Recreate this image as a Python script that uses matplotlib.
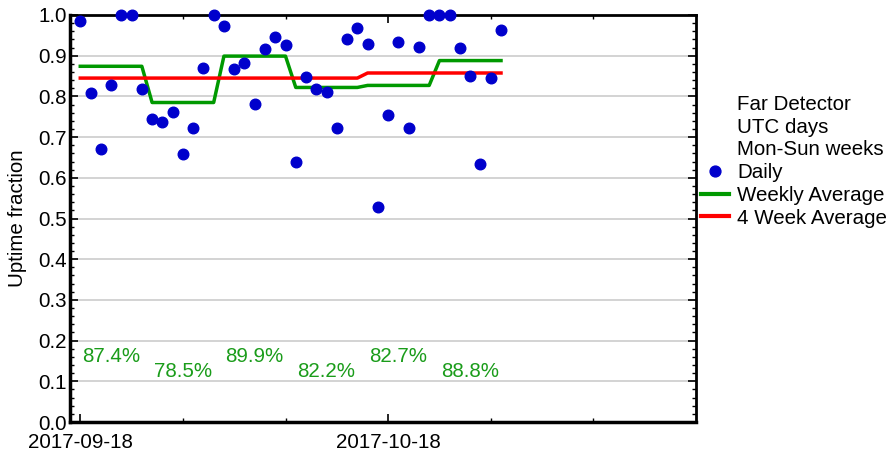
import numpy as np
import matplotlib
matplotlib.use("Agg")
import matplotlib.pyplot as plt
import matplotlib.dates as mdates
from matplotlib.lines import Line2D

plt.rcParams['font.family'] = ['Liberation Sans', 'DejaVu Sans']

# Daily uptime fraction, Mon 2017-09-18 .. Sun 2017-10-29
days = np.arange(np.datetime64('2017-09-18'), np.datetime64('2017-10-30'))
daily = [0.986, 0.809, 0.670, 0.827, 1.000, 1.000, 0.818,
         0.744, 0.737, 0.762, 0.659, 0.722, 0.870, 1.000,
         0.972, 0.867, 0.883, 0.781, 0.916, 0.946, 0.927,
         0.639, 0.848, 0.819, 0.811, 0.722, 0.942, 0.969,
         0.929, 0.528, 0.755, 0.934, 0.722, 0.922, 1.000,
         1.000, 1.000, 0.920, 0.850, 0.634, 0.844, 0.963]
weekly_avg = [0.874, 0.785, 0.899, 0.822, 0.827, 0.888]
four_week_avg = [0.8450, 0.8575]
legend_notes = ['Far Detector', 'UTC days', 'Mon-Sun weeks']

blue = '#0000cc'
green = '#009900'
red = '#ff0000'
fs = 14.8

fig = plt.figure(figsize=(8.92, 4.51), dpi=100)
ax = fig.add_axes([70 / 892, 1 - 422 / 451, 626 / 892, 407 / 451])

# weekly and 4-week averages repeated for each day, joined by lines
weekly_daily = np.repeat(weekly_avg, 7)
four_week_daily = np.repeat(four_week_avg, 28)[:len(days)]

ax.plot(days, weekly_daily, color=green, lw=2.5, zorder=3)
ax.plot(days, four_week_daily, color=red, lw=2.5, zorder=3)
ax.scatter(days, daily, s=58, color=blue, zorder=4, clip_on=False)

# weekly percentage labels, alternating heights
for i, w in enumerate(weekly_avg):
    ypos = 0.160 if i % 2 == 0 else 0.123
    ax.text(days[i * 7 + 3], ypos, f"{w * 100:.1f}%", color='#1a9c1a',
            fontsize=fs, ha='center', va='center')

ax.set_xlim(np.datetime64('2017-09-17'), np.datetime64('2017-11-17'))
ax.set_ylim(0, 1.0)

ax.set_xticks([np.datetime64('2017-09-18'), np.datetime64('2017-10-18')])
ax.set_xticks(np.arange(np.datetime64('2017-09-18'), np.datetime64('2017-11-17'), 10), minor=True)
ax.xaxis.set_major_formatter(mdates.DateFormatter('%Y-%m-%d'))
ax.set_yticks(np.arange(0, 1.01, 0.1))
ax.set_yticks(np.arange(0, 1.001, 0.02), minor=True)
ax.yaxis.set_major_formatter(matplotlib.ticker.FormatStrFormatter('%.1f'))

ax.tick_params(which='both', direction='in', top=True, right=True,
               labelsize=fs, pad=2)
ax.tick_params(axis='x', which='major', pad=8)
ax.tick_params(which='major', length=6, width=1.2)
ax.tick_params(which='minor', length=3, width=1.0)

ax.grid(axis='y', which='major', color='#cccccc', lw=1.2)
ax.set_axisbelow(True)
for side in ['left', 'bottom']:
    ax.spines[side].set_linewidth(2.5)
for side in ['top', 'right']:
    ax.spines[side].set_linewidth(2)

ax.set_ylabel('Uptime fraction', fontsize=fs, labelpad=8)

handles = [Line2D([], [], linestyle='none') for _ in legend_notes]
handles += [Line2D([], [], linestyle='none', marker='o', color=blue, markersize=7.8),
            Line2D([], [], color=green, lw=3),
            Line2D([], [], color=red, lw=3)]
labels = legend_notes + ['Daily', 'Weekly Average', '4 Week Average']
fig.legend(handles, labels, loc='upper left', bbox_to_anchor=(701 / 892, 1 - 95 / 451),
           frameon=False, fontsize=fs, borderpad=0, borderaxespad=0,
           handlelength=1.35, handletextpad=0.4, labelspacing=0.18)

fig.savefig('out.png', dpi=100)
